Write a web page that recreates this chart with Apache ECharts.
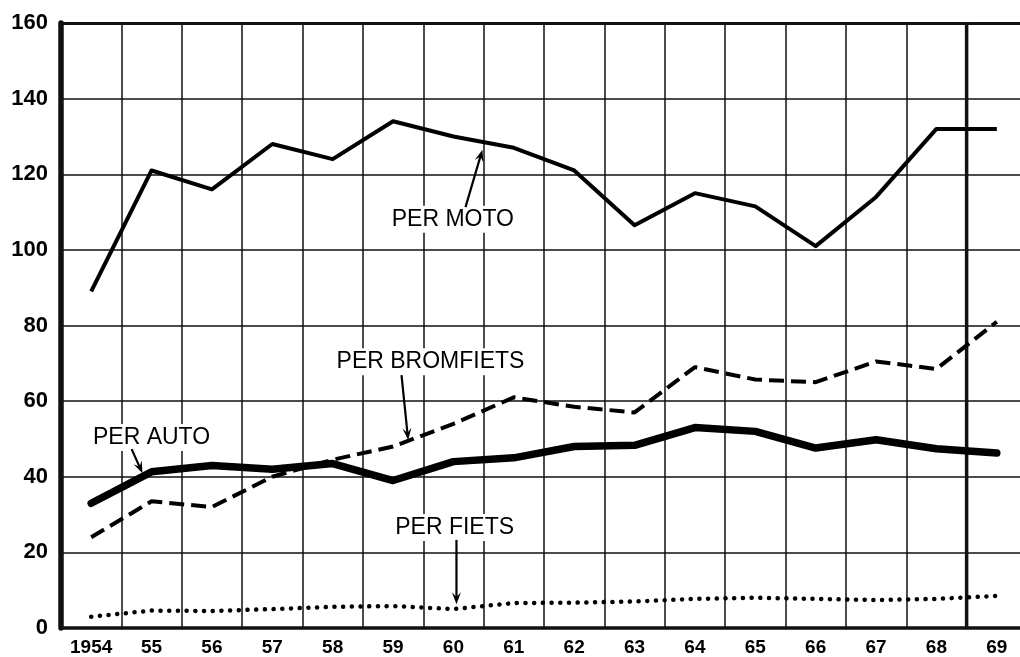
<!DOCTYPE html>
<html>
<head>
<meta charset="utf-8">
<script src="https://cdn.jsdelivr.net/npm/echarts@6/dist/echarts.min.js"></script>
<style>
  html, body { margin: 0; padding: 0; background: #fff; }
  #chart { width: 1020px; height: 657px; }
</style>
</head>
<body>
<div id="chart"></div>
<script>
var years = ['1954', '55', '56', '57', '58', '59', '60', '61', '62', '63', '64', '65', '66', '67', '68', '69'];
var perMoto = [89, 121, 116, 128, 124, 134, 130, 127, 121, 106.5, 115, 111.5, 101, 114, 132, 132];
var perBromfiets = [24, 33.5, 32, 40, 44.5, 48, 54, 61, 58.5, 57, 69, 65.7, 65, 70.5, 68.5, 81];
var perAuto = [33, 41.3, 43, 42, 43.5, 39, 44, 45, 48, 48.3, 53, 52, 47.6, 49.8, 47.4, 46.3];
var perFiets = [3, 4.6, 4.5, 5, 5.6, 5.8, 5, 6.6, 6.7, 7, 7.7, 8, 7.7, 7.4, 7.7, 8.5];

// annotation labels in data space: [category index, value]
var labelText = ['PER MOTO', 'PER BROMFIETS', 'PER AUTO', 'PER FIETS'];
var labelAt = [[5.99, 108.1], [5.62, 70.4], [1.0, 50.4], [6.02, 26.6]];
var arrowFrom = [[6.20, 111.3], [5.14, 66.9], [0.67, 47.3], [6.05, 23.3]];
var arrowTo = [[6.48, 126.5], [5.25, 49.7], [0.85, 40.9], [6.05, 6.3]];

(function () {
  var ink = '#111';
  var chart = echarts.init(document.getElementById('chart'));

  chart.setOption({
    animation: false,
    backgroundColor: '#fff',
    grid: { left: 61, right: -7, top: 23, bottom: 29, containLabel: false, outerBoundsMode: 'none' },
    xAxis: [{
      type: 'category',
      data: years,
      boundaryGap: true,
      axisLine: { lineStyle: { color: ink, width: 3.5 } },
      axisTick: { show: false },
      axisLabel: {
        interval: 0, margin: 10, color: '#000',
        fontFamily: 'Liberation Sans', fontWeight: 'bold', fontSize: 19
      },
      splitLine: { show: true, interval: 0, lineStyle: { color: ink, width: 1.5 } }
    }, {
      type: 'category',
      data: years,
      position: 'top',
      axisLine: { lineStyle: { color: ink, width: 3 } },
      axisTick: { show: false },
      axisLabel: { show: false },
      splitLine: { show: false }
    }],
    yAxis: {
      type: 'value',
      min: 0, max: 160, interval: 20,
      axisLine: { show: true, lineStyle: { color: ink, width: 5.5 } },
      axisTick: { show: false },
      axisLabel: {
        margin: 13, color: '#000',
        fontFamily: 'Liberation Sans', fontWeight: 'bold', fontSize: 22
      },
      splitLine: { lineStyle: { color: ink, width: 1.5 } }
    },
    series: [{
      name: 'PER MOTO', type: 'line', data: perMoto, symbol: 'none', z: 5,
      lineStyle: { color: '#000', width: 4, join: 'round' }
    }, {
      name: 'PER BROMFIETS', type: 'line', data: perBromfiets, symbol: 'none', z: 5,
      lineStyle: { color: '#000', width: 4, type: [15, 7] }
    }, {
      name: 'PER AUTO', type: 'line', data: perAuto, symbol: 'none', z: 6,
      lineStyle: { color: '#000', width: 7.5, join: 'round', cap: 'round' }
    }, {
      name: 'PER FIETS', type: 'line', data: perFiets, symbol: 'none', z: 5,
      lineStyle: { color: '#000', width: 4.5, type: [0.1, 8.6], cap: 'round' }
    }]
  });

  // fractional category positions, interpolated between neighbouring ticks
  function toPx(p) {
    var i0 = Math.floor(p[0]);
    var a = chart.convertToPixel({ gridIndex: 0 }, [i0, p[1]]);
    var b = chart.convertToPixel({ gridIndex: 0 }, [i0 + 1, p[1]]);
    return [a[0] + (b[0] - a[0]) * (p[0] - i0), a[1]];
  }

  var graphics = [];

  // heavy divider between 68 and 69
  var yTop = chart.convertToPixel({ gridIndex: 0 }, [0, 160])[1];
  var yBot = chart.convertToPixel({ gridIndex: 0 }, [0, 0])[1];
  var xDiv = (chart.convertToPixel({ gridIndex: 0 }, [14, 0])[0] + chart.convertToPixel({ gridIndex: 0 }, [15, 0])[0]) / 2;
  graphics.push({
    type: 'line', z: 4,
    shape: { x1: xDiv, y1: yTop, x2: xDiv, y2: yBot },
    style: { stroke: ink, lineWidth: 3.5 }
  });

  for (var k = 0; k < labelText.length; k++) {
    var c = toPx(labelAt[k]);
    graphics.push({
      type: 'text', z: 20,
      x: c[0], y: c[1],
      style: {
        text: labelText[k], fill: '#000',
        font: '23px "Liberation Sans"',
        align: 'center', verticalAlign: 'middle',
        backgroundColor: '#fff', padding: [2, 4]
      }
    });
    var f = toPx(arrowFrom[k]), t = toPx(arrowTo[k]);
    var dx = t[0] - f[0], dy = t[1] - f[1];
    var len = Math.sqrt(dx * dx + dy * dy);
    dx /= len; dy /= len;
    var nx = -dy, ny = dx, hl = 12, hw = 4.5;
    graphics.push({
      type: 'line', z: 21,
      shape: { x1: f[0], y1: f[1], x2: t[0] - dx * 6, y2: t[1] - dy * 6 },
      style: { stroke: '#000', lineWidth: 2.2 }
    });
    graphics.push({
      type: 'polygon', z: 21,
      shape: { points: [
        [t[0], t[1]],
        [t[0] - dx * hl + nx * hw, t[1] - dy * hl + ny * hw],
        [t[0] - dx * hl * 0.6, t[1] - dy * hl * 0.6],
        [t[0] - dx * hl - nx * hw, t[1] - dy * hl - ny * hw]
      ] },
      style: { fill: '#000' }
    });
  }

  chart.setOption({ graphic: graphics });
})();
</script>
</body>
</html>
